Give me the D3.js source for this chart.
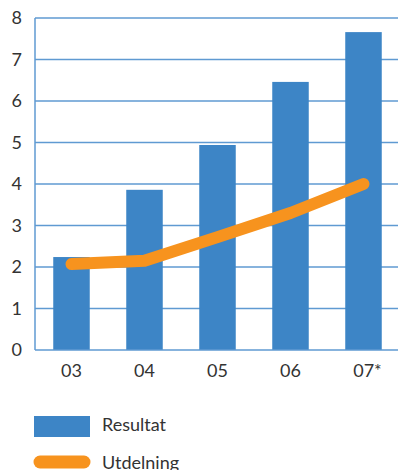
<!DOCTYPE html>
<html><head><meta charset="utf-8">
<script src="https://cdn.jsdelivr.net/npm/d3@7"></script>
<style>body{margin:0;background:#fff;}svg{display:block;font-family:Lato,"Open Sans",sans-serif;}</style>
</head><body>
<svg id="c" width="398" height="470"></svg>
<script>
const categories = ["03","04","05","06","07*"];
const resultat = [2.24, 3.86, 4.94, 6.46, 7.66];
const utdelning = [2.07, 2.15, 2.72, 3.3, 4.0];
const yTicks = [0,1,2,3,4,5,6,7,8];
const legendLabels = ["Resultat","Utdelning"];

(function(){
const svg = d3.select("#c");
const pLeft = 35, pRight = 400, pTop = 18, pBottom = 350;
const x = d3.scaleBand().domain(categories).range([pLeft, pRight]).paddingInner(0.5).paddingOuter(0.25);
const y = d3.scaleLinear().domain([0, 8]).range([pBottom, pTop]);

const gridColor = "#5f9ad2";
svg.append("g").selectAll("line").data(yTicks.filter(d => d > 0)).join("line")
  .attr("x1", pLeft).attr("x2", 398).attr("y1", d => y(d)).attr("y2", d => y(d))
  .attr("stroke", gridColor).attr("stroke-width", 1.5);

svg.append("g").selectAll("rect").data(resultat).join("rect")
  .attr("x", (d,i) => x(categories[i])).attr("width", x.bandwidth())
  .attr("y", d => y(d)).attr("height", d => pBottom - y(d))
  .attr("fill", "#3d85c6");

svg.append("line").attr("x1", pLeft).attr("x2", pLeft).attr("y1", pTop).attr("y2", pBottom)
  .attr("stroke", gridColor).attr("stroke-width", 1.5);
svg.append("line").attr("x1", pLeft).attr("x2", 398).attr("y1", pBottom).attr("y2", pBottom)
  .attr("stroke", gridColor).attr("stroke-width", 1.5);

const line = d3.line().x((d,i) => x(categories[i]) + x.bandwidth()/2).y(d => y(d));
svg.append("path").datum(utdelning).attr("d", line)
  .attr("fill", "none").attr("stroke", "#f7931e").attr("stroke-width", 12)
  .attr("stroke-linecap", "round").attr("stroke-linejoin", "round");

svg.append("g").selectAll("text").data(yTicks).join("text")
  .attr("x", 22).attr("y", d => y(d) + 6).attr("text-anchor", "end")
  .attr("font-size", 18).attr("fill", "#333").text(d => d);

svg.append("g").selectAll("text").data(categories).join("text")
  .attr("x", d => x(d) + x.bandwidth()/2 + (d.endsWith("*") ? 4 : 0)).attr("y", 377)
  .attr("text-anchor", "middle").attr("font-size", 18).attr("fill", "#333").text(d => d);

svg.append("rect").attr("x", 34).attr("y", 416).attr("width", 56).attr("height", 21).attr("fill", "#3d85c6");
svg.append("line").attr("x1", 40).attr("x2", 84).attr("y1", 462).attr("y2", 462)
  .attr("stroke", "#f7931e").attr("stroke-width", 13).attr("stroke-linecap", "round");
svg.append("g").selectAll("text").data(legendLabels).join("text")
  .attr("x", 102).attr("y", (d,i) => 431 + i*38).attr("font-size", 18).attr("fill", "#333").text(d => d);
})();
</script>
</body></html>
